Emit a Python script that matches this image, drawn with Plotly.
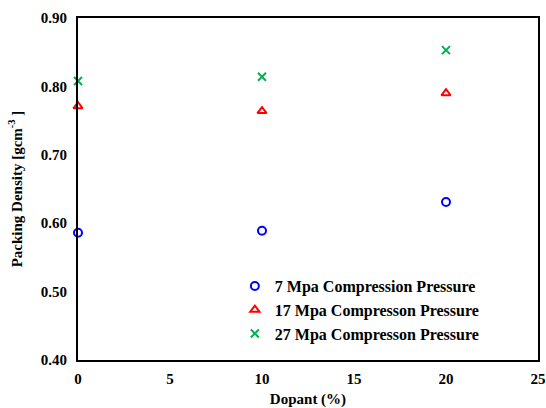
import plotly.graph_objects as go

dopant = [0, 10, 20]
p7 = [0.586, 0.589, 0.631]
p17 = [0.771, 0.764, 0.790]
p27 = [0.808, 0.814, 0.853]
names = ["7 Mpa Compression Pressure", "17 Mpa Compresson Pressure", "27 Mpa Compresson Pressure"]
x_ticks = [0, 5, 10, 15, 20, 25]
y_ticks = [0.4, 0.5, 0.6, 0.7, 0.8, 0.9]

FAM = "Liberation Serif"
font = dict(family=FAM, size=15, color="black")

fig = go.Figure()
fig.add_trace(go.Scatter(x=dopant, y=p7, mode="markers", name="<b>" + names[0] + "</b>",
                         marker=dict(symbol="circle-open", size=8, color="#0000FF", line=dict(width=2))))
fig.add_trace(go.Scatter(x=dopant, y=p17, mode="markers", name="<b>" + names[1] + "</b>",
                         marker=dict(symbol="triangle-up-open", size=8, color="#FF0000", line=dict(width=2))))
fig.add_trace(go.Scatter(x=dopant, y=p27, mode="markers", name="<b>" + names[2] + "</b>",
                         marker=dict(symbol="x-thin-open", size=8, color="#00B050", line=dict(width=2))))

fig.update_layout(
    width=546, height=408,
    margin=dict(l=78, r=8, t=18, b=48),
    paper_bgcolor="white", plot_bgcolor="white",
    font=font,
    showlegend=True,
    legend=dict(x=0.341, y=0.266, xanchor="left", yanchor="top", bgcolor="rgba(0,0,0,0)",
                font=dict(family=FAM, size=16, color="black"),
                itemwidth=30, tracegroupgap=0),
    xaxis=dict(range=[0, 25], tickvals=x_ticks, ticktext=["<b>%d</b>" % v for v in x_ticks],
               showgrid=False, zeroline=False, automargin=False, ticklabeloverflow="allow",
               ticklabelstandoff=4,
               showline=True, linecolor="black", linewidth=2, mirror=True, ticks="",
               tickfont=dict(family=FAM, size=15, color="black"),
               title=dict(text="<b>Dopant (%)</b>", font=dict(family=FAM, size=15, color="black"))),
    yaxis=dict(range=[0.40, 0.90], tickvals=y_ticks, ticktext=["<b>%.2f</b>" % v for v in y_ticks],
               showgrid=False, zeroline=False, automargin=False, ticklabelstandoff=6,
               showline=True, linecolor="black", linewidth=2, mirror=True, ticks="",
               tickfont=dict(family=FAM, size=15, color="black"),
               title=dict(text="<b>Packing Density [gcm<sup>-3</sup> ]</b>", font=dict(family=FAM, size=15, color="black"))),
)
fig.update_traces(cliponaxis=False)
fig.write_html("out.html", config={"displayModeBar": False},
               post_script="document.body.style.margin='0';document.body.style.overflow='hidden';")
